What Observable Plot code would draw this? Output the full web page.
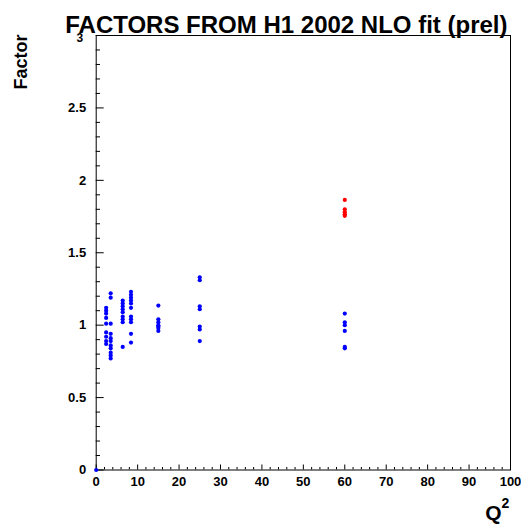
<!DOCTYPE html>
<html>
<head>
<meta charset="utf-8">
<script src="https://cdn.jsdelivr.net/npm/d3@7"></script>
<script src="https://cdn.jsdelivr.net/npm/@observablehq/plot@0.6"></script>
<style>
  html, body { margin: 0; padding: 0; background: #fff; }
</style>
</head>
<body>
<div id="chart"></div>
<script>
const titleText = "FACTORS FROM H1 2002 NLO fit (prel)";
const yLabelText = "Factor";

// blue points (Q², factor)
const blueQ2 = [
  0,
  2.4, 2.4, 2.4, 2.4, 2.4, 2.4, 2.4, 2.4, 2.4,
  3.5, 3.5, 3.5, 3.5, 3.5, 3.5, 3.5, 3.5, 3.5, 3.5, 3.5,
  6.4, 6.4, 6.4, 6.4, 6.4, 6.4, 6.4, 6.4, 6.4,
  8.4, 8.4, 8.4, 8.4, 8.4, 8.4, 8.4, 8.4, 8.4, 8.4, 8.4,
  15, 15, 15, 15, 15, 15, 15,
  25, 25, 25, 25, 25, 25, 25,
  60, 60, 60, 60, 60, 60
];
const blueFactor = [
  0,
  1.12, 1.10, 1.08, 1.05, 1.01, 0.95, 0.92, 0.89, 0.87,
  1.22, 1.19, 1.01, 0.94, 0.91, 0.89, 0.86, 0.84, 0.81, 0.79, 0.77,
  1.17, 1.15, 1.13, 1.11, 1.09, 1.06, 1.04, 1.02, 0.85,
  1.23, 1.21, 1.19, 1.17, 1.15, 1.12, 1.06, 1.04, 1.02, 0.94, 0.88,
  1.135, 1.04, 1.02, 1.0, 0.99, 0.98, 0.96,
  1.33, 1.31, 1.13, 1.11, 0.99, 0.97, 0.89,
  1.08, 1.02, 1.0, 0.96, 0.85, 0.84
];

// red points
const redQ2 = [60, 60, 60, 60, 60];
const redFactor = [1.865, 1.80, 1.78, 1.765, 1.755];

// axes ticks
const xMajor = [0, 10, 20, 30, 40, 50, 60, 70, 80, 90, 100];
const xMinor = [2, 4, 6, 8, 12, 14, 16, 18, 22, 24, 26, 28, 32, 34, 36, 38, 42, 44, 46, 48,
                52, 54, 56, 58, 62, 64, 66, 68, 72, 74, 76, 78, 82, 84, 86, 88, 92, 94, 96, 98];
const yMajor = [0, 0.5, 1, 1.5, 2, 2.5, 3];
const yMinor = [0.1, 0.2, 0.3, 0.4, 0.6, 0.7, 0.8, 0.9, 1.1, 1.2, 1.3, 1.4,
                1.6, 1.7, 1.8, 1.9, 2.1, 2.2, 2.3, 2.4, 2.6, 2.7, 2.8, 2.9];

const blue = blueQ2.map((q, i) => ({q2: q, f: blueFactor[i]}));
const red = redQ2.map((q, i) => ({q2: q, f: redFactor[i]}));

const W = 521, H = 526;
const mL = 95.7, mR = 11, mT = 35, mB = 56.5;
const innerW = W - mL - mR, innerH = H - mT - mB;

const chart = Plot.plot({
  width: W,
  height: H,
  marginLeft: mL,
  marginRight: mR,
  marginTop: mT,
  marginBottom: mB,
  style: {fontFamily: "'Liberation Sans', Arial, sans-serif", fontWeight: "bold", background: "#fff", color: "#000"},
  x: {domain: [0, 100]},
  y: {domain: [0, 3]},
  marks: [
    Plot.axisX(xMajor, {tickSize: 0, tickPadding: 7, fontSize: 13, fontWeight: "bold", label: null, tickFormat: d => String(d)}),
    Plot.axisY(yMajor.filter(d => d !== 3), {tickSize: 0, tickPadding: 10, fontSize: 13, fontWeight: "bold", label: null, tickFormat: d => String(d)}),
    Plot.axisY([3], {tickSize: 0, tickPadding: 13, dy: 3, fontSize: 12, fontWeight: "bold", label: null, tickFormat: d => String(d)}),
    Plot.tickX(xMajor, {x: d => d, insetTop: innerH - 5, stroke: "#000"}),
    Plot.tickX(xMinor, {x: d => d, insetTop: innerH - 2.5, stroke: "#000"}),
    Plot.tickY(yMajor, {y: d => d, insetRight: innerW - 8, stroke: "#000"}),
    Plot.tickY(yMinor, {y: d => d, insetRight: innerW - 4.3, stroke: "#000"}),
    Plot.frame({stroke: "#000"}),
    Plot.dot(blue, {x: "q2", y: "f", r: 2.1, fill: "#0000ff", stroke: "none"}),
    Plot.dot(red, {x: "q2", y: "f", r: 2.1, fill: "#ff0000", stroke: "none"}),
    Plot.text([titleText], {frameAnchor: "top", dx: -17, dy: -3, lineAnchor: "bottom", fontSize: 24, fontWeight: "bold", fill: "#000"}),
    Plot.text([yLabelText], {frameAnchor: "top-left", rotate: -90, textAnchor: "end", lineAnchor: "middle", dx: -75, dy: -1, fontSize: 18, fontWeight: "bold", fill: "#000"}),
    Plot.text(["Q"], {frameAnchor: "bottom-right", textAnchor: "end", lineAnchor: "bottom", dx: -9, dy: 50, fontSize: 21, fontWeight: "bold", fill: "#000"}),
    Plot.text(["2"], {frameAnchor: "bottom-right", textAnchor: "start", lineAnchor: "bottom", dx: -9, dy: 37.5, fontSize: 14, fontWeight: "bold", fill: "#000"})
  ]
});
document.getElementById("chart").appendChild(chart);
</script>
</body>
</html>
